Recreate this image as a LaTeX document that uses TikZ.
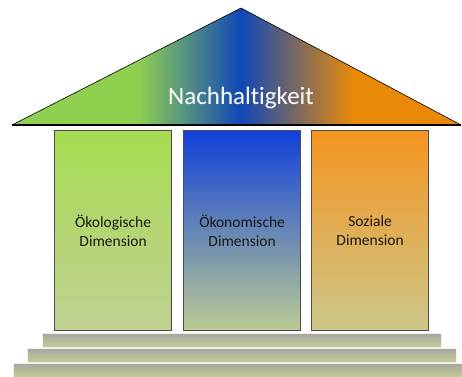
\documentclass[tikz,border=0pt]{standalone}
\usepackage{fontspec}
\setmainfont[Ligatures=NoCommon]{Carlito}
\usetikzlibrary{shadings}

\definecolor{dachgruen}{rgb}{0.565,0.816,0.314}
\definecolor{dachblau}{rgb}{0.063,0.282,0.722}
\definecolor{dachorange}{rgb}{0.910,0.541,0.031}
\pgfdeclarehorizontalshading{dachverlauf}{100bp}{
    color(0bp)=(dachgruen); color(39bp)=(dachgruen);
    color(50.5bp)=(dachblau);
    color(63bp)=(dachorange); color(100bp)=(dachorange)}

\begin{document}
\begin{tikzpicture}[x=1pt, y=-1pt]
    \tikzstyle{every node} = [font=\fontsize{15.5}{19.5}\selectfont, text=black!90]
    \tikzstyle{saeule} = [draw=black!70, line width=1.2pt, inner sep=0pt, anchor=north west, minimum width=117pt, minimum height=200pt, align=center, text width=112pt]
    \tikzstyle{stufe} = [draw=white!88!gray, line width=0.6pt, top color=sgrau, bottom color=sgruen]
    \tikzstyle{dachtext} = [font=\fontsize{25}{28}\selectfont, text=white]

    \definecolor{c1t}{rgb}{0.651,0.863,0.314}
    \definecolor{c1b}{rgb}{0.757,0.816,0.580}
    \definecolor{c2t}{rgb}{0.063,0.251,0.847}
    \definecolor{c2b}{rgb}{0.737,0.800,0.580}
    \definecolor{c3t}{rgb}{0.961,0.580,0.125}
    \definecolor{c3b}{rgb}{0.800,0.784,0.541}
    \definecolor{sgrau}{rgb}{0.650,0.650,0.620}
    \definecolor{sgruen}{rgb}{0.769,0.800,0.580}

    \useasboundingbox (0,0) rectangle (462,376);

    % Dach
    \coordinate (dl) at (12,125);
    \coordinate (dr) at (461,125);
    \coordinate (df) at (241,8);
    \shade[shading=dachverlauf] (dl) -- (df) -- (dr) -- cycle;
    \draw[line width=0.6pt] (dl) -- (df) -- (dr);
    \draw[line width=1.6pt] (dl) -- (dr);
    \node[dachtext] (dach) at (241,98) {Nachhaltigkeit};

    % Stufen
    \foreach[count=\c] \xa/\xb/\ya in {42/441/333, 27/456/348, 13/462/363} {
        \draw[stufe] (\xa,\ya) rectangle (\xb,\ya+14);
    }

    % Saeulen
    \foreach[count=\c] \x/\txt in {54/{Ökologische\\Dimension}, 183/{Ökonomische\\Dimension}, 311/{Soziale\\Dimension}} {
        \node[saeule, top color=c\c t, bottom color=c\c b] (s\c) at (\x,130) {\txt};
    }
\end{tikzpicture}
\end{document}
